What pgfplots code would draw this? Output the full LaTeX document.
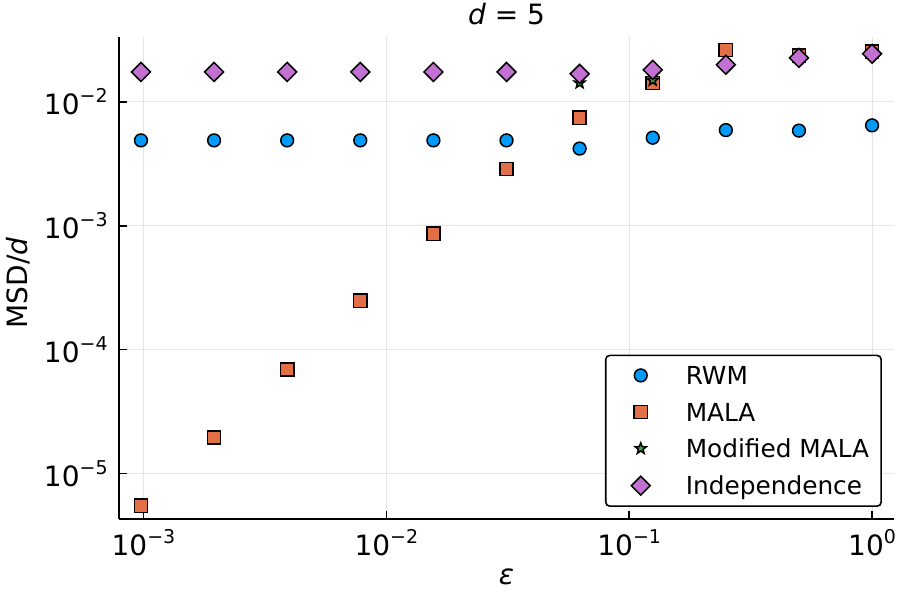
\documentclass[border=0pt]{standalone}
\usepackage{fontspec}
\setmainfont{DejaVu Sans}
\usepackage{pgfplots}
\pgfplotsset{compat=1.18}
\definecolor{c1}{RGB}{0,154,250}
\definecolor{c2}{RGB}{227,111,71}
\definecolor{c3}{RGB}{62,164,78}
\definecolor{c4}{RGB}{194,113,210}
\pgfdeclareplotmark{star5}{%
  \pgfpathmoveto{\pgfqpointpolar{90}{\pgfplotmarksize}}%
  \pgfpathlineto{\pgfqpointpolar{126}{0.42\pgfplotmarksize}}%
  \pgfpathlineto{\pgfqpointpolar{162}{\pgfplotmarksize}}%
  \pgfpathlineto{\pgfqpointpolar{198}{0.42\pgfplotmarksize}}%
  \pgfpathlineto{\pgfqpointpolar{234}{\pgfplotmarksize}}%
  \pgfpathlineto{\pgfqpointpolar{270}{0.42\pgfplotmarksize}}%
  \pgfpathlineto{\pgfqpointpolar{306}{\pgfplotmarksize}}%
  \pgfpathlineto{\pgfqpointpolar{342}{0.42\pgfplotmarksize}}%
  \pgfpathlineto{\pgfqpointpolar{18}{\pgfplotmarksize}}%
  \pgfpathlineto{\pgfqpointpolar{54}{0.42\pgfplotmarksize}}%
  \pgfpathclose
  \pgfusepathqfillstroke}
\newcommand{\tp}[1]{10\raisebox{0.42em}{\fontsize{9.5}{10}\selectfont #1}}
\begin{document}
\begin{tikzpicture}
\useasboundingbox (-59.5pt,-40.5pt) rectangle (390.5pt,259.5pt);
\begin{axis}[
  at={(0pt,0pt)}, anchor=south west,
  scale only axis, width=387.5pt, height=241pt,
  xmode=log, ymode=log,
  xmin=7.93e-4, xmax=1.231, ymin=4.3e-6, ymax=0.0333,
  axis x line*=bottom, axis y line*=left,
  axis line style={-, line width=0.8pt, black},
  xtick={1e-3,1e-2,1e-1,1},
  xticklabels={\tp{−3},\tp{−2},\tp{−1},\tp{0}},
  ytick={1e-5,1e-4,1e-3,1e-2},
  yticklabels={\tp{−5},\tp{−4},\tp{−3},\tp{−2}},
  xminorticks=false, yminorticks=false,
  tick style={line width=0.8pt, black},
  major tick length=4pt,
  tick align=inside,
  tick label style={font=\fontsize{14}{14}\selectfont},
  xticklabel style={inner sep=0pt, yshift=-5pt},
  yticklabel style={inner sep=0pt, xshift=-5.5pt},
  grid=major,
  major grid style={line width=0.5pt, color=black!10},
  xlabel={\textit{ε}},
  xlabel style={at={(axis description cs:0.5,0)}, anchor=center, yshift=-29pt, inner sep=0pt, font=\fontsize{14}{14}\selectfont},
  ylabel={MSD/\textit{d}},
  ylabel style={at={(axis description cs:-0.1303,0.49)}, anchor=center, inner sep=0pt, font=\fontsize{14}{14}\selectfont},
  title={\textit{d} = 5},
  title style={at={(axis description cs:0.5,1)}, anchor=base, inner sep=0pt, yshift=0.5pt, font=\fontsize{14}{14}\selectfont},
  legend cell align=left,
  legend style={at={(0.9845,0.025)}, anchor=south east, draw=black, line width=0.8pt, rounded corners=2pt, fill=white,
    inner xsep=6pt, inner ysep=5.5pt, row sep=9.3pt,
    nodes={inner sep=0pt, text height=9pt, text depth=0pt},
    font=\fontsize{12.4}{12.4}\selectfont},
  legend image code/.code={\path[draw=none] (0pt,0pt) -- (34pt,0pt); \draw[#1] plot coordinates {(11.5pt,0pt)};},
  every axis plot/.append style={only marks, line width=0.75pt, mark options={draw=black, line width=0.75pt}},
]
\addplot[mark=*, mark size=3.2pt, mark options={fill=c1}] coordinates {
(0.0009765625,0.00488) (0.001953125,0.00488) (0.00390625,0.00488) (0.0078125,0.00488)
(0.015625,0.00488) (0.03125,0.00488) (0.0625,0.00419) (0.125,0.00513)
(0.25,0.00591) (0.5,0.00585) (1,0.00645)};
\addlegendentry{RWM}
\addplot[mark=square*, mark size=3.3pt, mark options={fill=c2}] coordinates {
(0.0009765625,5.5e-6) (0.001953125,1.95e-5) (0.00390625,6.9e-5) (0.0078125,2.48e-4)
(0.015625,8.6e-4) (0.03125,2.86e-3) (0.0625,7.43e-3) (0.125,0.0142)
(0.25,0.0262) (0.5,0.0236) (1,0.0254)};
\addlegendentry{MALA}
\addplot[mark=star5, mark size=2.9pt, mark options={fill=c3}] coordinates {
(0.0009765625,0.0174) (0.001953125,0.0174) (0.00390625,0.0174) (0.0078125,0.0174)
(0.015625,0.0174) (0.03125,0.0174) (0.0625,0.0142) (0.125,0.0149)
(0.25,0.0199) (0.5,0.0226) (1,0.0244)};
\addlegendentry{Modified MALA}
\addplot[mark=square*, mark size=3.35pt, mark options={fill=c4, rotate=45}] coordinates {
(0.0009765625,0.0174) (0.001953125,0.0174) (0.00390625,0.0174) (0.0078125,0.0174)
(0.015625,0.0174) (0.03125,0.0174) (0.0625,0.0168) (0.125,0.0181)
(0.25,0.0199) (0.5,0.0226) (1,0.0244)};
\addlegendentry{Independence}
\end{axis}
\end{tikzpicture}
\end{document}
